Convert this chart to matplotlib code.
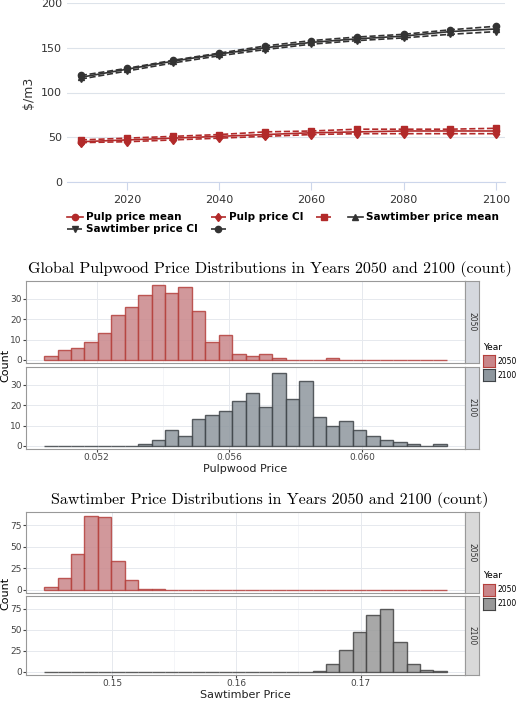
import numpy as np
import matplotlib
matplotlib.use("Agg")
import matplotlib.pyplot as plt
from matplotlib.lines import Line2D

W, H = 520, 701

#### DATA
years = [2010, 2020, 2030, 2040, 2050, 2060, 2070, 2080, 2090, 2100]
saw_mean = [117, 126, 135, 143, 150, 156, 160, 163, 168, 171]
saw_hi = [119, 127, 136, 144, 152, 158, 162, 165, 170, 174]
saw_lo = [115, 124, 133, 141, 148, 154, 158, 161, 165, 168]
pulp_mean = [45, 47, 49, 51, 53, 55, 56, 57, 57, 57]
pulp_hi = [47, 49, 51, 53, 56, 57, 59, 59, 59, 60]
pulp_lo = [44, 45, 47, 49, 51, 53, 54, 54, 54, 54]

# histogram counts, 30 bins each
pulp_range = (0.05042, 0.06255)
pulp_2050 = [2, 5, 6, 9, 13, 22, 26, 32, 37, 33, 36, 24, 9, 12, 3, 2, 3, 1, 0, 0,
             0, 1, 0, 0, 0, 0, 0, 0, 0, 0]
pulp_2100 = [0, 0, 0, 0, 0, 0, 0, 1, 3, 8, 5, 13, 15, 17, 22, 26, 19, 36, 23, 32,
             14, 10, 12, 8, 5, 3, 2, 1, 0, 1]
saw_range = (0.1445, 0.17696)
saw_2050 = [3, 14, 42, 86, 84, 34, 11, 1, 1, 0, 0, 0, 0, 0, 0, 0, 0, 0, 0, 0,
            0, 0, 0, 0, 0, 0, 0, 0, 0, 0]
saw_2100 = [0] * 20 + [1, 9, 26, 48, 68, 75, 36, 10, 2, 1]

red = "#b22a2a"
dark = "#333333"


def px_axes(fig, x0, y0, x1, y1):
    # pixel box (top-left origin) -> axes
    return fig.add_axes([x0 / W, 1 - y1 / H, (x1 - x0) / W, (y1 - y0) / H])


fig = plt.figure(figsize=(W / 100, H / 100), dpi=100)

#### LINE CHART
ax = px_axes(fig, 67, 3, 505, 182)
ms = 4.5
ax.plot(years, pulp_mean, color=red, marker="o", ms=ms, lw=1.2)
ax.plot(years, pulp_lo, color=red, marker="d", ms=ms, lw=1.2, ls="--")
ax.plot(years, pulp_hi, color=red, marker="s", ms=ms, lw=1.2, ls="--")
ax.plot(years, saw_mean, color=dark, marker="^", ms=ms, lw=1.2)
ax.plot(years, saw_lo, color=dark, marker="v", ms=ms, lw=1.2, ls="--")
ax.plot(years, saw_hi, color=dark, marker="o", ms=ms, lw=1.2, ls="--")
ax.set_ylim(0, 200)
ax.set_xlim(2007, 2102)
ax.set_xticks([2020, 2040, 2060, 2080, 2100])
ax.set_yticks([0, 50, 100, 150, 200])
ax.set_ylabel("$/m3", fontsize=9, color="#333333")
ax.grid(axis="y", color="#dde3ea", lw=0.8)
for s in ["top", "right", "left"]:
    ax.spines[s].set_visible(False)
ax.spines["bottom"].set_color("#ccd6eb")
ax.tick_params(axis="y", length=0, labelsize=8, colors="#333333")
ax.tick_params(axis="x", length=6, color="#ccd6eb", labelsize=8, colors="#333333")
h = {
    "pm": Line2D([], [], color=red, marker="o", ms=ms, lw=1.2),
    "pc": Line2D([], [], color=red, marker="d", ms=ms, lw=1.2, ls="--"),
    "pu": Line2D([], [], color=red, marker="s", ms=ms, lw=1.2, ls="--"),
    "sm": Line2D([], [], color=dark, marker="^", ms=ms, lw=1.2),
    "sc": Line2D([], [], color=dark, marker="v", ms=ms, lw=1.2, ls="--"),
    "su": Line2D([], [], color=dark, marker="o", ms=ms, lw=1.2, ls="--"),
}
# column-major order so rows read: pm, pc, pu, sm / sc, su
order = [("pm", "Pulp price mean"), ("sc", "Sawtimber price CI"),
         ("pc", "Pulp price CI"), ("su", ""),
         ("pu", ""), ("sm", "Sawtimber price mean")]
fig.legend([h[k] for k, _ in order], [l for _, l in order], loc="upper left",
           bbox_to_anchor=(58 / W, 1 - 203 / H), ncol=4, frameon=False,
           prop={"size": 7.5, "weight": "bold"}, handlelength=1.5,
           columnspacing=1.2, handletextpad=0.3, labelspacing=0.2)


def hist_pair(top, bot, rng, c50, c100, ticks, yticks, xlabel, title, fill100, edge100):
    edges = np.linspace(rng[0], rng[1], len(c50) + 1)
    pad = (rng[1] - rng[0]) * 0.045
    axs = []
    for (y0, y1), counts, fc, ec, lab in [
        (top, c50, "#c9868a", "#b5403c", "2050"),
        (bot, c100, fill100, edge100, "2100"),
    ]:
        a = px_axes(fig, 26, y0, 465, y1)
        a.bar(edges[:-1], counts, width=np.diff(edges), align="edge",
              color=fc, edgecolor=ec, lw=1, alpha=0.85)
        a.set_xlim(rng[0] - pad, rng[1] + pad)
        a.set_xticks(ticks)
        a.set_xticks(np.array(ticks[:-1]) + (ticks[1] - ticks[0]) / 2, minor=True)
        a.set_yticks(yticks)
        a.grid(which="major", color="#e6e9ee", lw=0.7)
        a.grid(which="minor", color="#f0f2f5", lw=0.5)
        a.set_axisbelow(True)
        a.tick_params(labelsize=6.5, colors="#444444", length=2, pad=1)
        a.tick_params(which="minor", length=0)
        for sp in a.spines.values():
            sp.set_color("#999999")
        # facet strip
        s = px_axes(fig, 465, y0, 479, y1)
        s.set_facecolor("#d5d8de" if fill100 != "#999999" else "#d9d9d9")
        s.set_xticks([]); s.set_yticks([])
        for sp in s.spines.values():
            sp.set_color("#999999")
        s.text(0.5, 0.5, lab, rotation=-90, ha="center", va="center",
               fontsize=5.5, color="#333333", transform=s.transAxes)
        axs.append(a)
    axs[0].tick_params(labelbottom=False, length=0, axis="x")
    axs[1].set_xlabel(xlabel, fontsize=8, color="#222222", labelpad=1)
    ymax = max(max(c50), max(c100)) * 1.05
    for a in axs:
        a.set_ylim(-ymax * 0.04, ymax)
    fig.text(5 / W, 1 - ((top[0] + bot[1]) / 2) / H, "Count", rotation=90,
             ha="center", va="center", fontsize=8)
    fig.text(270 / W, 1 - (top[0] - 12) / H, title, ha="center", va="center",
             fontsize=11.5, family="cmr10")
    # legend
    ly = (top[0] + bot[1]) / 2
    fig.text(483 / W, 1 - (ly - 18) / H, "Year", fontsize=6.5, va="center")
    for i, (fc, ec, lab) in enumerate([("#c9868a", "#b5403c", "2050"),
                                       (fill100, edge100, "2100")]):
        la = px_axes(fig, 483, ly - 10 + i * 14, 495, ly + 2 + i * 14)
        la.set_facecolor(fc)
        for sp in la.spines.values():
            sp.set_color(ec)
        la.set_xticks([]); la.set_yticks([])
        fig.text(498 / W, 1 - (ly - 4 + i * 14) / H, lab, fontsize=5.5, va="center")


hist_pair((281, 363), (367, 449), pulp_range, pulp_2050, pulp_2100,
          [0.052, 0.056, 0.060], [0, 10, 20, 30], "Pulpwood Price",
          "Global Pulpwood Price Distributions in Years 2050 and 2100 (count)",
          "#8e979e", "#3f4448")
hist_pair((512, 593), (596, 675), saw_range, saw_2050, saw_2100,
          [0.15, 0.16, 0.17], [0, 25, 50, 75], "Sawtimber Price",
          "Sawtimber Price Distributions in Years 2050 and 2100 (count)",
          "#999999", "#444444")

fig.savefig("out.png", dpi=100)
